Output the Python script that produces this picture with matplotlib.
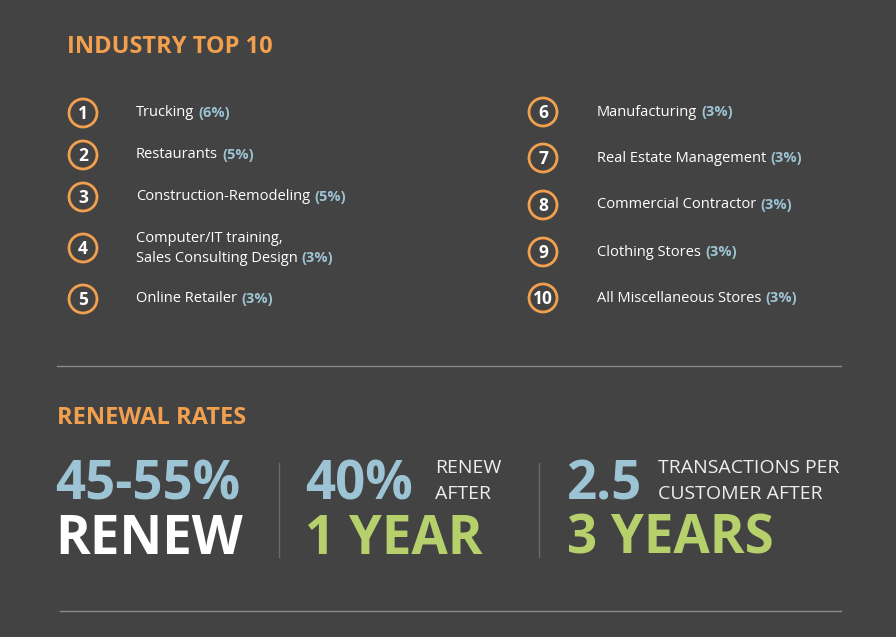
import matplotlib.pyplot as plt
from matplotlib.patches import Circle

plt.rcParams['font.family'] = ['Open Sans', 'DejaVu Sans']

# data
industries = ['Trucking', 'Restaurants', 'Construction-Remodeling',
              'Computer/IT training,\nSales Consulting Design', 'Online Retailer',
              'Manufacturing', 'Real Estate Management', 'Commercial Contractor',
              'Clothing Stores', 'All Miscellaneous Stores']
shares = [6, 5, 5, 3, 3, 3, 3, 3, 3, 3]
row_y = [113, 155, 197, 248, 299, 112, 158, 205, 252, 298]

stat_big = ['45-55%', '40%', '2.5']
stat_small = ['', 'RENEW\nAFTER', 'TRANSACTIONS PER\nCUSTOMER AFTER']
stat_bottom = ['RENEW', '1 YEAR', '3 YEARS']

BG = '#434343'
ORANGE = '#F2A04E'
BLUE = '#9DC4D4'
GREEN = '#B6D06C'
WHITE = '#FFFFFF'

fig = plt.figure(figsize=(8.96, 6.37), dpi=100, facecolor=BG)
ax = fig.add_axes([0, 0, 1, 1])
ax.set_xlim(0, 896)
ax.set_ylim(637, 0)
ax.axis('off')
ax.set_facecolor(BG)

ax.text(67, 47, 'INDUSTRY TOP 10', color=ORANGE, fontsize=17, fontweight='bold', va='center')

fig.canvas.draw()
renderer = fig.canvas.get_renderer()
inv = ax.transData.inverted()

for i, (name, pct, y) in enumerate(zip(industries, shares, row_y)):
    cx, tx = (83, 136) if i < 5 else (543, 597)
    ax.add_patch(Circle((cx, y), 14, facecolor='none', edgecolor=ORANGE, lw=2))
    ax.text(cx, y + 1, str(i + 1), color=WHITE, fontsize=12.5, fontweight='bold',
            ha='center', va='center')
    lines = name.split('\n')
    if len(lines) == 2:
        ax.text(tx, y - 9, lines[0], color=WHITE, fontsize=10.5, va='center')
        ly = y + 10
    else:
        ly = y
    t = ax.text(tx, ly, lines[-1], color=WHITE, fontsize=10.5, va='center')
    bb = t.get_window_extent(renderer)
    x_end = inv.transform((bb.x1, bb.y0))[0]
    ax.text(x_end + 4, ly, f'({pct}%)', color=BLUE, fontsize=10.5,
            fontweight='bold', va='center')

ax.plot([57, 841], [366, 366], color='#8a8a8a', lw=1)
ax.plot([60, 841], [611, 611], color='#8a8a8a', lw=1)

ax.text(57, 418, 'RENEWAL RATES', color=ORANGE, fontsize=17, fontweight='bold', va='center')

for x in [279, 539]:
    ax.plot([x, x], [463, 557], color='#6a6a6a', lw=1)

big_x = [55, 305, 567]
small_x = [None, 435, 658]
for bx, sx, big, small, bottom in zip(big_x, small_x, stat_big, stat_small, stat_bottom):
    ax.text(bx, 485, big, color=BLUE, fontsize=38, fontweight='bold', va='center')
    ax.text(bx, 540, bottom, color=WHITE if bottom == 'RENEW' else GREEN,
            fontsize=38, fontweight='bold', va='center')
    if small:
        for k, ln in enumerate(small.split('\n')):
            ax.text(sx, 468 + 26 * k, ln, color='#eeeeee', fontsize=14, va='center')

fig.savefig('out.png', dpi=100, facecolor=BG)
